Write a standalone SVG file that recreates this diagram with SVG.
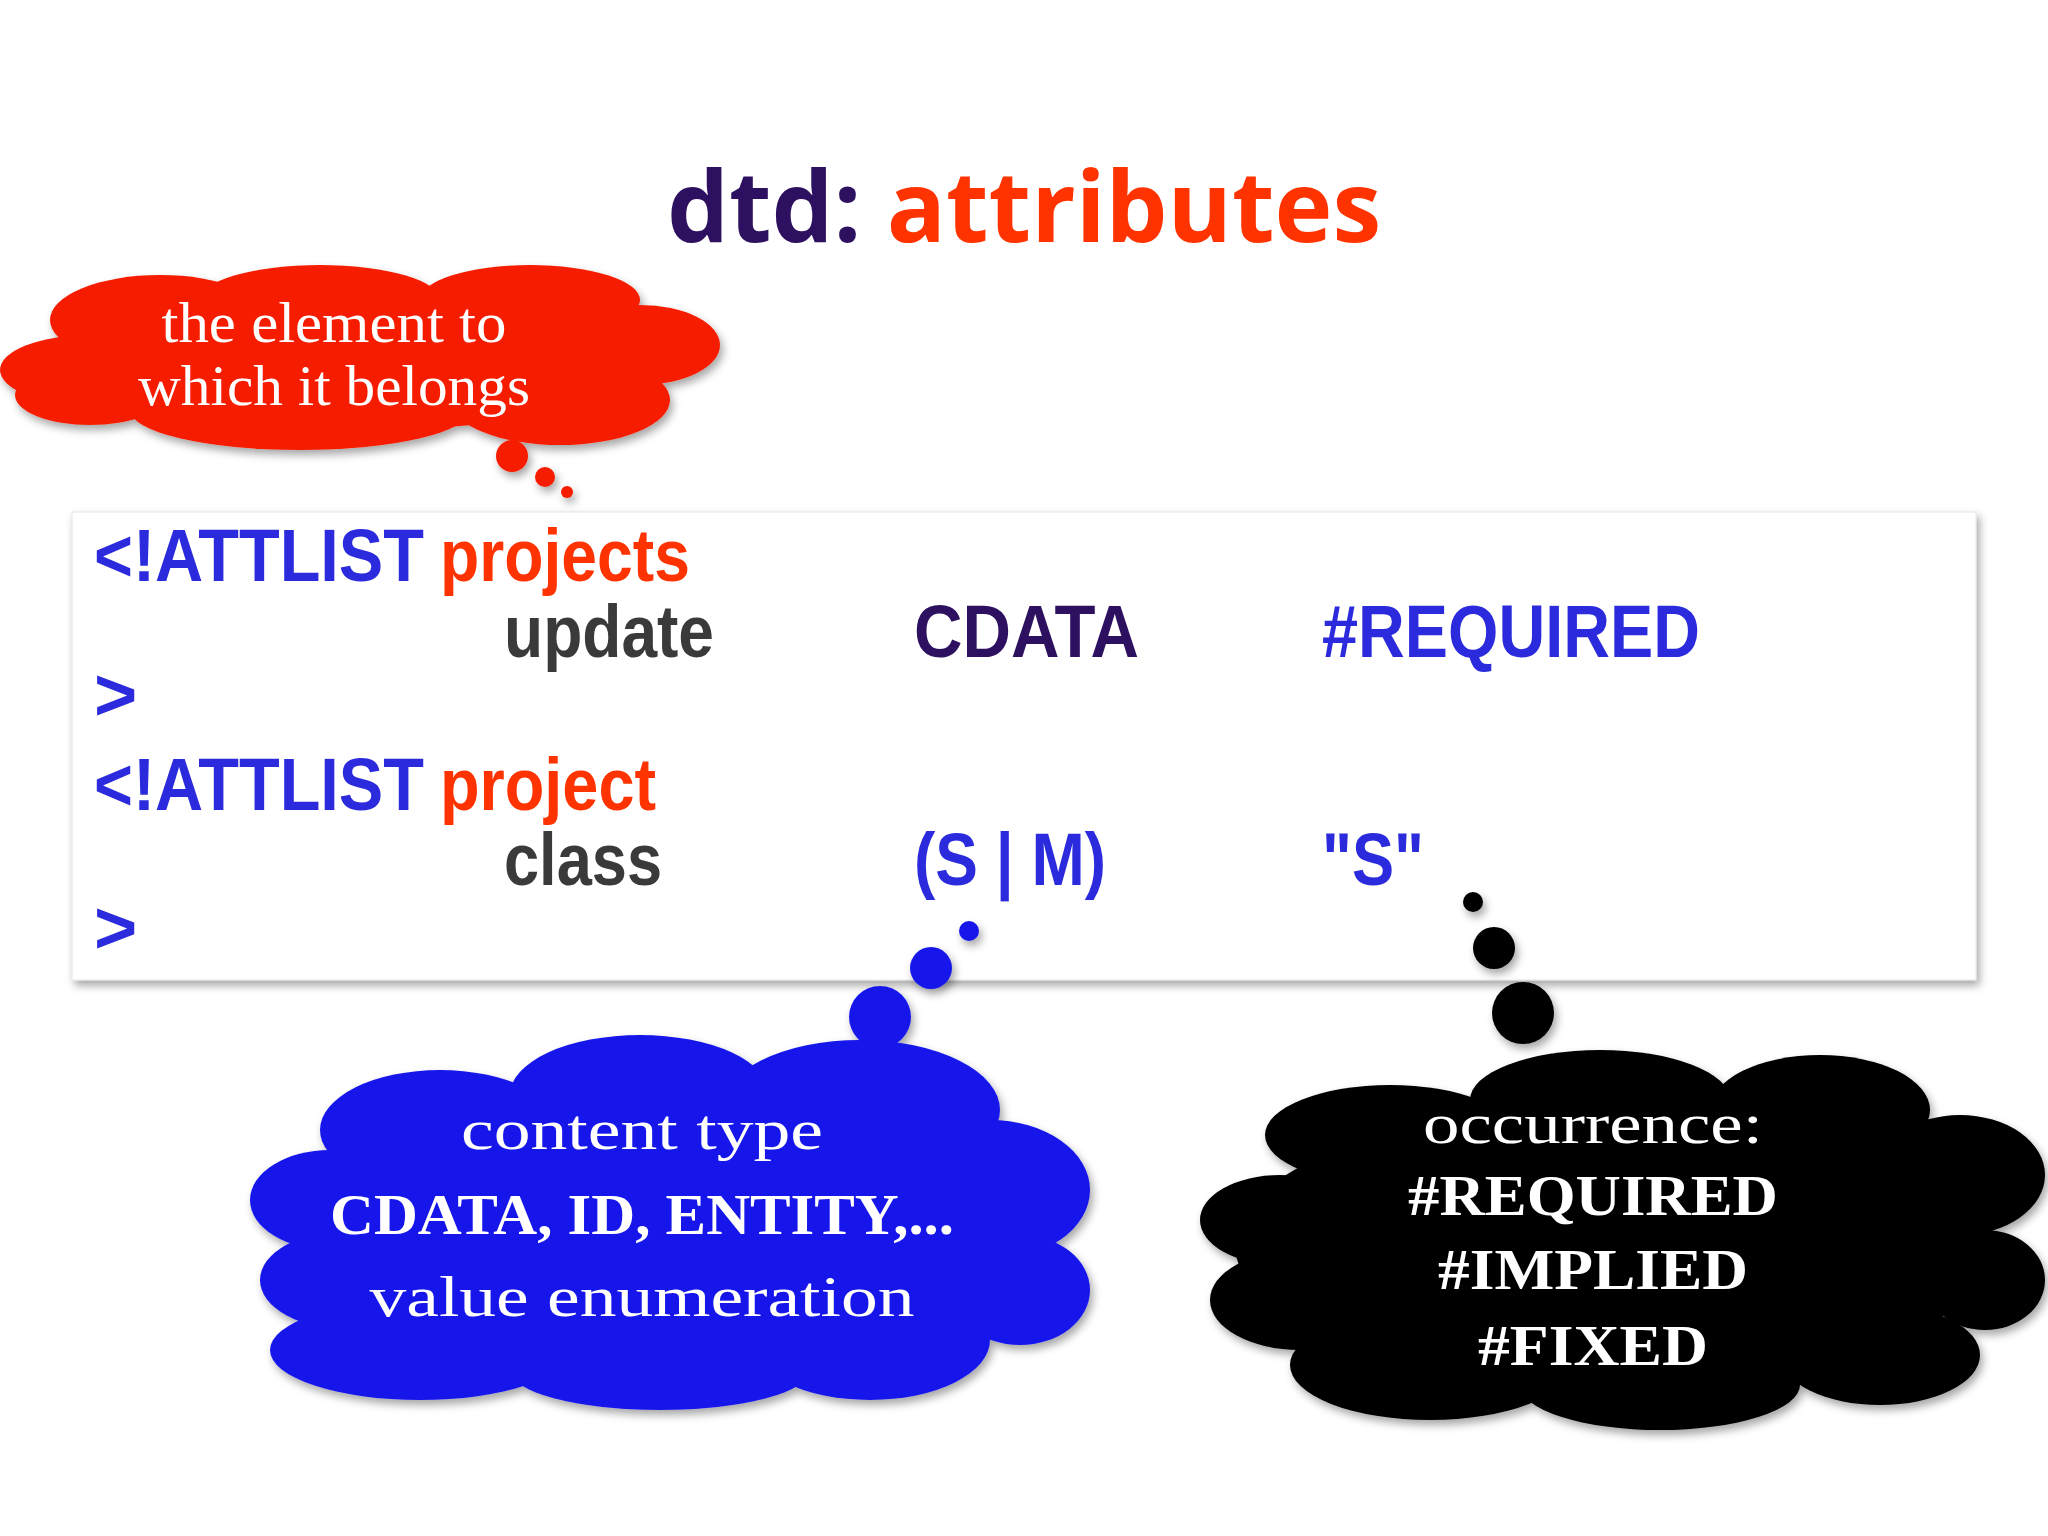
<svg xmlns="http://www.w3.org/2000/svg" width="2048" height="1536" viewBox="0 0 2048 1536">
<defs>
<filter id="sh" x="-10%" y="-10%" width="120%" height="130%"><feDropShadow dx="3" dy="5" stdDeviation="4" flood-color="#000" flood-opacity="0.35"/></filter>
</defs>
<style>
.code{font-family:"Liberation Sans Narrow","Liberation Sans",sans-serif;font-weight:bold;font-size:74px}
.blue{fill:#2b2bdd}.red{fill:#ff3300}.gray{fill:#3a3a3a}.purp{fill:#2d1060}
.ct{font-family:"Liberation Serif","DejaVu Serif",serif;fill:#fff;text-anchor:middle;font-size:58px}
.b{font-weight:bold}
</style>
<rect width="2048" height="1536" fill="#fff"/>
<g id="title"><text x="1024" y="242" text-anchor="middle" font-family="Open Sans,Lato,sans-serif" font-weight="bold" font-size="98"><tspan fill="#2d1060">dtd:</tspan><tspan fill="#ff3300"> attributes</tspan></text></g>
<g id="codebox">
<rect x="72" y="512" width="1904" height="468" fill="#fff" filter="url(#sh)" stroke="#e4e4e4" stroke-width="1"/>
<text class="code blue" x="94" y="581" textLength="330" lengthAdjust="spacingAndGlyphs">&lt;!ATTLIST</text>
<text class="code red" x="440" y="581" textLength="250" lengthAdjust="spacingAndGlyphs">projects</text>
<text class="code gray" x="504" y="657" textLength="210" lengthAdjust="spacingAndGlyphs">update</text>
<text class="code purp" x="914" y="657" textLength="225" lengthAdjust="spacingAndGlyphs">CDATA</text>
<text class="code blue" x="1322" y="657" textLength="378" lengthAdjust="spacingAndGlyphs">#REQUIRED</text>
<text class="code blue" x="94" y="720">&gt;</text>
<text class="code blue" x="94" y="810" textLength="330" lengthAdjust="spacingAndGlyphs">&lt;!ATTLIST</text>
<text class="code red" x="440" y="810" textLength="216" lengthAdjust="spacingAndGlyphs">project</text>
<text class="code gray" x="504" y="885" textLength="158" lengthAdjust="spacingAndGlyphs">class</text>
<text class="code blue" x="914" y="885" textLength="192" lengthAdjust="spacingAndGlyphs">(S | M)</text>
<text class="code blue" x="1322" y="885" textLength="102" lengthAdjust="spacingAndGlyphs">"S"</text>
<text class="code blue" x="94" y="953">&gt;</text>
</g>
<g id="cloud-red" filter="url(#sh)" fill="#f51e00">
<ellipse cx="360" cy="360" rx="300" ry="70"/><ellipse cx="160" cy="320" rx="110" ry="45"/><ellipse cx="320" cy="300" rx="120" ry="35"/><ellipse cx="530" cy="300" rx="110" ry="35"/><ellipse cx="640" cy="345" rx="80" ry="40"/><ellipse cx="90" cy="370" rx="90" ry="35"/><ellipse cx="560" cy="400" rx="110" ry="45"/><ellipse cx="300" cy="410" rx="170" ry="40"/><ellipse cx="90" cy="395" rx="75" ry="30"/>
<circle cx="512" cy="456" r="16"/><circle cx="545" cy="477" r="10"/><circle cx="567" cy="492" r="6"/>
<text class="ct" x="334" y="342" textLength="345" lengthAdjust="spacingAndGlyphs">the element to</text>
<text class="ct" x="334" y="405" textLength="392" lengthAdjust="spacingAndGlyphs">which it belongs</text>
</g>
<g id="cloud-blue" filter="url(#sh)" fill="#1818ea">
<circle cx="969" cy="931" r="10"/><circle cx="931" cy="968" r="21"/><circle cx="880" cy="1017" r="31"/>
<ellipse cx="670" cy="1225" rx="380" ry="140"/><ellipse cx="440" cy="1130" rx="120" ry="60"/><ellipse cx="640" cy="1095" rx="130" ry="60"/><ellipse cx="860" cy="1110" rx="140" ry="70"/><ellipse cx="990" cy="1190" rx="100" ry="70"/><ellipse cx="1020" cy="1290" rx="70" ry="55"/><ellipse cx="870" cy="1340" rx="120" ry="60"/><ellipse cx="660" cy="1370" rx="150" ry="40"/><ellipse cx="420" cy="1350" rx="150" ry="50"/><ellipse cx="350" cy="1280" rx="90" ry="50"/><ellipse cx="330" cy="1200" rx="80" ry="50"/>
<text class="ct" x="642" y="1149" font-size="64" textLength="362" lengthAdjust="spacingAndGlyphs">content type</text>
<text class="ct b" x="642" y="1234" font-size="64" textLength="624" lengthAdjust="spacingAndGlyphs">CDATA, ID, ENTITY,...</text>
<text class="ct" x="642" y="1316" font-size="64" textLength="545" lengthAdjust="spacingAndGlyphs">value enumeration</text>
</g>
<g id="cloud-black" filter="url(#sh)" fill="#000">
<circle cx="1473" cy="902" r="10"/><circle cx="1494" cy="948" r="21"/><circle cx="1523" cy="1013" r="31"/>
<ellipse cx="1615" cy="1245" rx="380" ry="140"/><ellipse cx="1390" cy="1135" rx="125" ry="50"/><ellipse cx="1600" cy="1100" rx="130" ry="50"/><ellipse cx="1820" cy="1110" rx="110" ry="55"/><ellipse cx="1960" cy="1175" rx="85" ry="60"/><ellipse cx="1985" cy="1280" rx="60" ry="50"/><ellipse cx="1880" cy="1355" rx="100" ry="50"/><ellipse cx="1660" cy="1385" rx="140" ry="45"/><ellipse cx="1430" cy="1365" rx="140" ry="55"/><ellipse cx="1300" cy="1300" rx="90" ry="50"/><ellipse cx="1280" cy="1220" rx="80" ry="45"/>
<text class="ct" x="1593" y="1143" font-size="64" textLength="340" lengthAdjust="spacingAndGlyphs">occurrence:</text>
<text class="ct b" x="1593" y="1215" font-size="64" textLength="370" lengthAdjust="spacingAndGlyphs">#REQUIRED</text>
<text class="ct b" x="1593" y="1289" font-size="64" textLength="310" lengthAdjust="spacingAndGlyphs">#IMPLIED</text>
<text class="ct b" x="1593" y="1365" font-size="64" textLength="230" lengthAdjust="spacingAndGlyphs">#FIXED</text>
</g>
</svg>
